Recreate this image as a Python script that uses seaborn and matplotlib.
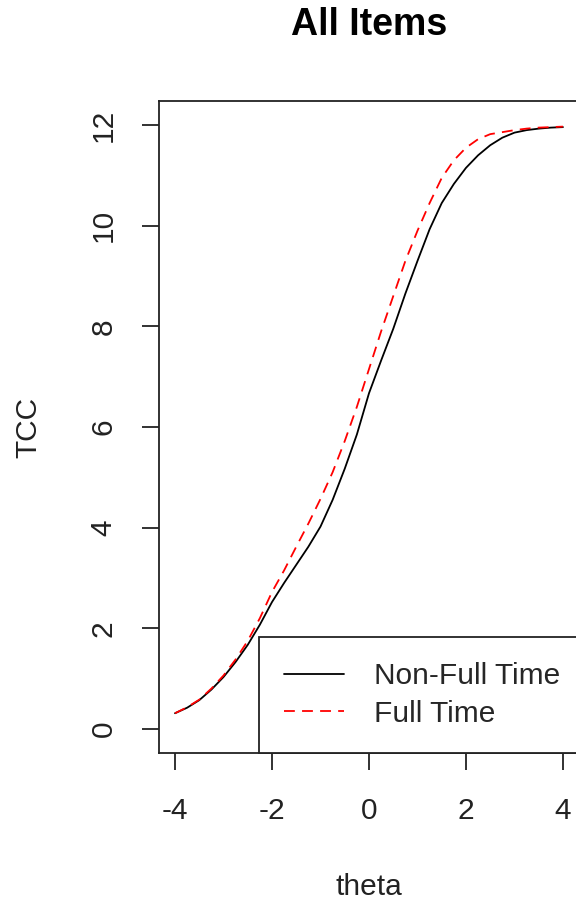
import numpy as np
import pandas as pd
import matplotlib
matplotlib.use("Agg")
import matplotlib.pyplot as plt
import seaborn as sns

# test characteristic curves
theta = [-4.0, -3.75, -3.5, -3.25, -3.0, -2.75, -2.5, -2.25, -2.0, -1.75, -1.5,
         -1.25, -1.0, -0.75, -0.5, -0.25, 0.0, 0.25, 0.5, 0.75, 1.0, 1.25, 1.5,
         1.75, 2.0, 2.25, 2.5, 2.75, 3.0, 3.25, 3.5, 3.75, 4.0]
tcc_nonfull = [0.31, 0.42, 0.57, 0.78, 1.03, 1.33, 1.67, 2.07, 2.52, 2.9, 3.26,
               3.62, 4.02, 4.55, 5.17, 5.85, 6.67, 7.32, 7.95, 8.65, 9.3, 9.93, 10.45,
               10.83, 11.15, 11.4, 11.6, 11.75, 11.85, 11.9, 11.93, 11.95, 11.96]
tcc_full = [0.31, 0.43, 0.58, 0.8, 1.06, 1.38, 1.75, 2.2, 2.72, 3.15, 3.62,
            4.08, 4.57, 5.1, 5.72, 6.4, 7.15, 7.9, 8.6, 9.3, 9.9, 10.45, 10.95,
            11.3, 11.55, 11.72, 11.82, 11.86, 11.9, 11.93, 11.95, 11.96, 11.97]
groups = ["Non-Full Time", "Full Time"]
xticks = [-4, -2, 0, 2, 4]
yticks = [0, 2, 4, 6, 8, 10, 12]

sns.set_style("ticks")
plt.rcParams["font.family"] = ["Liberation Sans", "DejaVu Sans"]
plt.rcParams["axes.unicode_minus"] = False
plt.rcParams["font.size"] = 21.5

df = pd.DataFrame({
    "theta": theta * 2,
    "TCC": tcc_nonfull + tcc_full,
    "group": [groups[0]] * len(theta) + [groups[1]] * len(theta),
})

fig = plt.figure(figsize=(5.76, 9.07), dpi=100)
ax = fig.add_axes([0.2769, 0.1698, 0.7274, 0.7189])

sns.lineplot(data=df[df["group"] == groups[0]], x="theta", y="TCC", ax=ax,
             color="black", lw=1.3, label=groups[0])
sns.lineplot(data=df[df["group"] == groups[1]], x="theta", y="TCC", ax=ax,
             color="red", lw=1.3, label=groups[1])
ax.lines[1].set_dashes((6, 4))

ax.set_xlim(-4.32, 4.32)
ax.set_ylim(-0.48, 12.48)
ax.set_xticks(xticks)
ax.set_yticks(yticks)
ax.tick_params(length=12, width=1.3, color="#222222", labelsize=21.5, labelcolor="#222222")
ax.tick_params(axis="x", pad=20)
ax.tick_params(axis="y", pad=18, labelrotation=90)
for lab in ax.get_yticklabels():
    lab.set_va("center")
for sp in ax.spines.values():
    sp.set_visible(True)
    sp.set_linewidth(1.3)
    sp.set_color("#222222")

ax.set_xlabel("theta", fontsize=21.5, va="center", color="#222222")
ax.xaxis.set_label_coords(0.5, -0.2055)
ax.set_ylabel("TCC", fontsize=21.5, va="center", color="#222222")
ax.yaxis.set_label_coords(-0.314, 0.5)
ax.set_title("All Items", fontsize=27, fontweight="bold", color="black",
             y=1.1166, pad=0, va="center")

# legend sits in the bottom right corner; its right edge is cut off like the plot
leg = ax.legend(loc="lower right", bbox_to_anchor=(1.017, 0), borderaxespad=0,
                fancybox=False, frameon=True, fontsize=21.5, handlelength=2.0,
                handletextpad=1.0, labelspacing=0.32, borderpad=0.85)
leg.get_frame().set_edgecolor("#222222")
leg.get_frame().set_linewidth(1.3)
leg.get_frame().set_alpha(1)

fig.savefig("out.png", dpi=100)
